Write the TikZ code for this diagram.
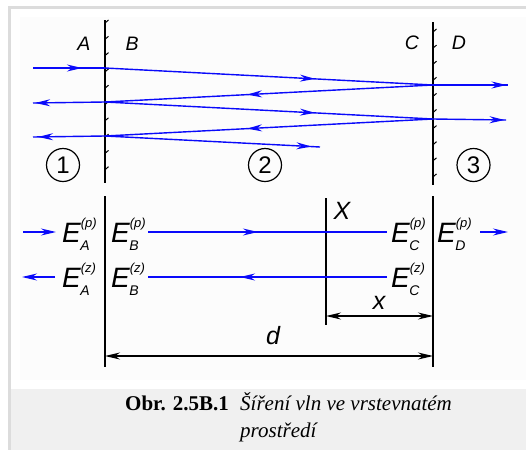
\documentclass[tikz,border=0pt]{standalone}
\usepackage{fontspec}
\setmainfont{Liberation Serif}
\newfontfamily\cad{Liberation Sans}
\usetikzlibrary{arrows.meta,decorations.markings}
\definecolor{raycol}{RGB}{10,10,250}
\definecolor{framecol}{RGB}{220,220,220}
\definecolor{capcol}{RGB}{240,240,240}
\definecolor{platecol}{RGB}{252,252,252}
\tikzset{
  cadtip/.tip={Stealth[length=15pt,width=7pt,inset=5pt]},
  ray/.style={draw=raycol, line width=1.4pt},
  wall/.style={draw=black, line width=1.8pt},
  thinline/.style={draw=black, line width=1.3pt},
  tickmark/.style={draw=black, line width=1pt},
  midarrow/.style={postaction={decorate}, decoration={markings, mark=at position #1 with {\arrow{cadtip}}}},
  endarrow/.style={-cadtip},
  lab/.style={inner sep=0pt, font=\cad\itshape\fontsize{19.5}{20}\selectfont},
  biglab/.style={inner sep=0pt, font=\cad\itshape\fontsize{25}{25}\selectfont},
  elab/.style={inner sep=0pt, anchor=base west, font=\cad\itshape\fontsize{28}{28}\selectfont},
  circ/.style={draw=black, line width=1.2pt, circle, minimum size=33pt, inner sep=0pt, font=\cad\fontsize{24}{24}\selectfont},
  captxt/.style={inner sep=0pt, anchor=base west, font=\fontsize{21}{21}\selectfont}
}
\newcommand{\Elab}[2]{E\rlap{\raisebox{14.5pt}{\fontsize{13}{13}\selectfont(#2)}}\kern-0.5pt\raisebox{-8pt}{\fontsize{14}{14}\selectfont #1}}
\begin{document}
\begin{tikzpicture}[x=1pt,y=-1pt]
\useasboundingbox (0,0) rectangle (526,450);
\fill[white] (0,0) rectangle (526,450);
\fill[framecol] (8,6) rectangle (526,8.5);
\fill[framecol] (8,6) rectangle (10.5,450);
\fill[platecol] (20,17) rectangle (526,380);
\fill[capcol] (10.5,389) rectangle (526,450);

% walls
\coordinate (ABt) at (105,20);
\coordinate (ABb) at (105,183);
\coordinate (CDt) at (433,22);
\coordinate (CDb) at (433,185);
\draw[wall] (ABt) -- (ABb);
\draw[wall] (CDt) -- (CDb);
\foreach \k in {0,...,9} {
  \draw[tickmark] (105,23+16.3*\k) -- ++(3.5,-3);
  \draw[tickmark] (433,32+16.1*\k) -- ++(3.5,-3);
}
\node[lab] (A) at (84,44) {A};
\node[lab] (B) at (132,44) {B};
\node[lab] (C) at (412,43) {C};
\node[lab] (D) at (459,43) {D};

% rays
\coordinate (s1) at (33,68);
\coordinate (a1) at (105,68);
\coordinate (c1) at (433,85);
\coordinate (a2) at (105,102);
\coordinate (c2) at (433,119);
\coordinate (a3) at (105,136);
\coordinate (e1) at (320,147);
\coordinate (l2) at (33,103);
\coordinate (l3) at (33,137);
\coordinate (r1) at (508,85);
\coordinate (r2) at (506,120);
\draw[ray, midarrow=0.68] (s1) -- (a1);
\draw[ray, midarrow=0.64] (a1) -- (c1);
\draw[ray, midarrow=0.567] (c1) -- (a2);
\draw[ray, midarrow=0.64] (a2) -- (c2);
\draw[ray, midarrow=0.567] (c2) -- (a3);
\draw[ray, midarrow=0.96] (a3) -- (e1);
\draw[ray, midarrow=0.97] (a2) -- (l2);
\draw[ray, midarrow=0.93] (a3) -- (l3);
\draw[ray, midarrow=0.98] (c1) -- (r1);
\draw[ray, midarrow=0.98] (c2) -- (r2);

\node[circ] (n1) at (63,165) {1};
\node[circ] (n2) at (265,165) {2};
\node[circ] (n3) at (473.5,165) {3};

% lower part
\coordinate (ABlt) at (105,196);
\coordinate (ABlb) at (105,367);
\coordinate (CDlt) at (433,196);
\coordinate (CDlb) at (433,367);
\coordinate (Xt) at (326,198);
\coordinate (Xb) at (326,325);
\draw[thinline] (ABlt) -- (ABlb);
\draw[thinline] (CDlt) -- (CDlb);
\draw[thinline] (Xt) -- (Xb);
\node[biglab] (Xl) at (342,211) {X};

\node[elab] (EAp) at (62,242) {\Elab{A}{p}};
\node[elab] (EBp) at (111,242) {\Elab{B}{p}};
\node[elab] (ECp) at (391,242) {\Elab{C}{p}};
\node[elab] (EDp) at (437,242) {\Elab{D}{p}};
\node[elab] (EAz) at (62,287) {\Elab{A}{z}};
\node[elab] (EBz) at (111,287) {\Elab{B}{z}};
\node[elab] (ECz) at (391,287) {\Elab{C}{z}};

\coordinate (pl0) at (23,232);
\coordinate (pl1) at (56,232);
\coordinate (pm0) at (148,232);
\coordinate (pm1) at (387,232);
\coordinate (pr0) at (480,232);
\coordinate (pr1) at (508,232);
\coordinate (zl0) at (55,277);
\coordinate (zl1) at (22,277);
\coordinate (zm0) at (387,277);
\coordinate (zm1) at (148,277);
\draw[ray, endarrow] (pl0) -- (pl1);
\draw[ray, midarrow=0.46] (pm0) -- (pm1);
\draw[ray, endarrow] (pr0) -- (pr1);
\draw[ray, endarrow] (zl0) -- (zl1);
\draw[ray, midarrow=0.615] (zm0) -- (zm1);

% dimensions
\coordinate (xd0) at (326,316);
\coordinate (xd1) at (433,316);
\coordinate (dd0) at (105,356);
\coordinate (dd1) at (433,356);
\draw[thinline, cadtip-cadtip] (xd0) -- (xd1);
\draw[thinline, cadtip-cadtip] (dd0) -- (dd1);
\node[biglab] (xl) at (379,303) {x};
\node[biglab] (dl) at (273,336) {d};

% caption
\node[captxt, font=\bfseries\fontsize{21}{21}\selectfont] (cap1) at (125,410) {Obr. 2.5B.1};
\node[captxt, font=\itshape\fontsize{21}{21}\selectfont] (cap2) at (240,410) {Šíření vln ve vrstevnatém};
\node[captxt, font=\itshape\fontsize{21}{21}\selectfont] (cap3) at (240,437) {prostředí};
\end{tikzpicture}
\end{document}
